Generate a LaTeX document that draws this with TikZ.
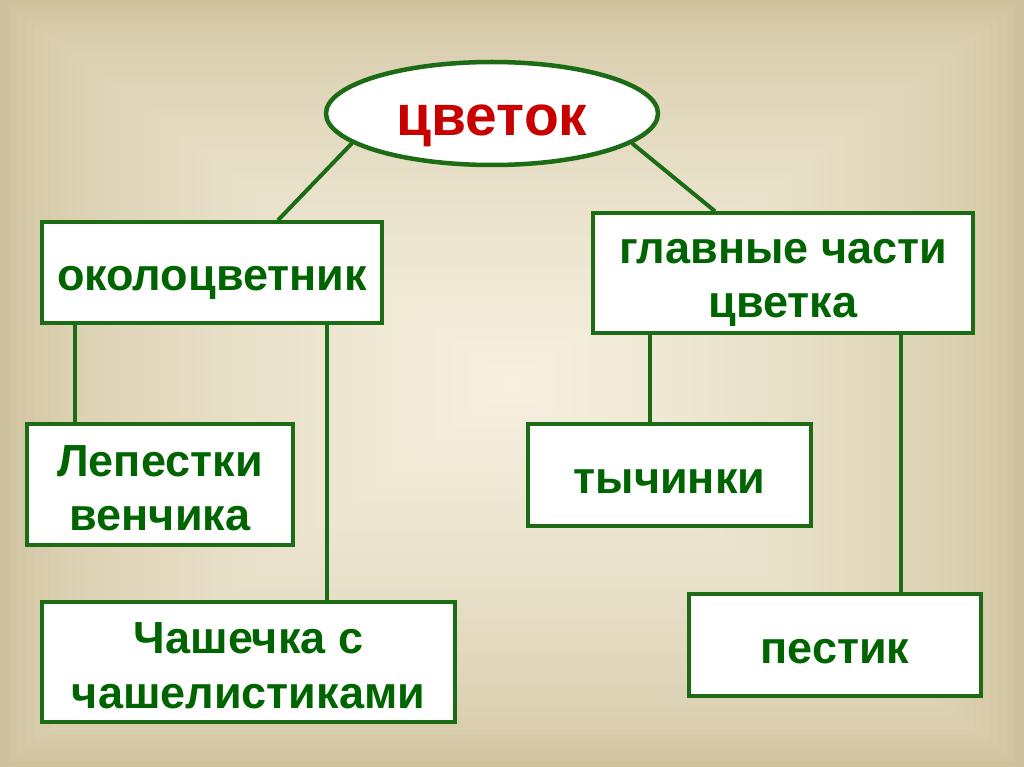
\documentclass[tikz,border=0pt]{standalone}
\usepackage{fontspec}
\setmainfont{Liberation Sans}
\usetikzlibrary{shapes.geometric,calc}
\definecolor{bgedge}{RGB}{206,192,154}
\definecolor{bgmid}{RGB}{245,240,224}
\definecolor{lgreen}{RGB}{28,108,22}
\definecolor{tgreen}{RGB}{0,100,0}
\definecolor{tred}{RGB}{200,0,0}
\newcommand\ppstrut{\rule[-0.14em]{0pt}{1.12em}}
\begin{document}
\begin{tikzpicture}[x=1pt,y=-1pt,
  box/.style={draw=lgreen, line width=3.5pt, fill=white, inner sep=0pt, align=center,
    text=tgreen, font=\bfseries\fontsize{45}{54.5}\selectfont},
  link/.style={draw=lgreen, line width=4pt}]
\useasboundingbox (0,0) rectangle (1024,767);
% background: rectangular gradient
\foreach \i in {0,...,60}{
  \pgfmathsetmacro{\f}{1-\i/60}
  \pgfmathsetmacro{\p}{100*(\i/60)^0.55}
  \fill[bgmid!\p!bgedge] (512-512*\f,383.5-383.5*\f) rectangle (512+512*\f,383.5+383.5*\f);
}
% nodes
\node[ellipse, draw=lgreen, line width=4.5pt, fill=white, minimum width=332pt, minimum height=103pt,
  inner sep=0pt, text=tred, font=\bfseries\fontsize{57}{60}\selectfont] (flower) at (492,113.5) {\ppstrut цветок};
\node[box, minimum width=340pt, minimum height=101pt] (okolo) at (212,272.5) {\ppstrut околоцветник};
\node[box, minimum width=380pt, minimum height=120pt] (main) at (783,273) {\ppstrut главные части\\\ppstrut цветка};
\node[box, minimum width=266pt, minimum height=121pt] (lep) at (160,484.5) {\ppstrut Лепестки\\\ppstrut венчика};
\node[box, minimum width=413pt, minimum height=120pt] (cup) at (248.5,662) {\ppstrut Чашечка с\\\ppstrut чашелистиками};
\node[box, minimum width=283pt, minimum height=102pt] (tych) at (669.5,475) {\ppstrut тычинки};
\node[box, minimum width=292pt, minimum height=102pt] (pest) at (835,645) {\ppstrut пестик};
% connectors
\draw[link] (flower.192) -- (okolo.north -| 278,0);
\draw[link] (flower.348) -- (main.north -| 715,0);
\coordinate (c1) at (okolo.south -| 75,0);
\coordinate (c2) at (okolo.south -| 327,0);
\coordinate (c3) at (main.south -| 650,0);
\coordinate (c4) at (main.south -| 901,0);
\draw[link] (c1) -- (c1 |- lep.north);
\draw[link] (c2) -- (c2 |- cup.north);
\draw[link] (c3) -- (c3 |- tych.north);
\draw[link] (c4) -- (c4 |- pest.north);
\end{tikzpicture}
\end{document}
